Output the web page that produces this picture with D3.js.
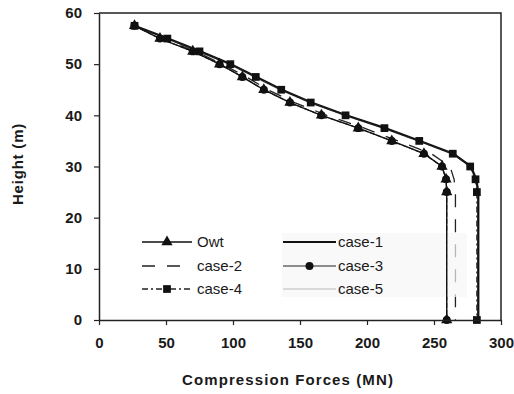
<!DOCTYPE html>
<html>
<head>
<meta charset="utf-8">
<script src="https://cdn.jsdelivr.net/npm/d3@7"></script>
<style>
  body { margin: 0; background: #fff; }
  text { font-family: "Liberation Sans", Arial, sans-serif; fill: #1a1a1a; }
</style>
</head>
<body>
<div id="chart"></div>
<script>
// heights (m) shared by every series
const heights = [57.5, 55, 52.5, 50, 47.5, 45, 42.5, 40, 37.5, 35, 32.5, 30, 27.5, 25, 0];

// compression forces (MN)
const owtForces   = [26.5, 45.5, 70, 90, 107, 123, 142.5, 166, 193.5, 218.5, 242.5, 256, 259, 259.5, 259.5];
const case1Forces = [26.5, 51.5, 75.5, 98.5, 117.5, 136.5, 158.5, 184.5, 213.5, 239.5, 264.5, 277.5, 281.5, 283, 283];
const case2Forces = [26.5, 47, 72, 92, 110, 126, 146, 170, 198, 223, 248, 262, 265, 266, 266];
const case3Forces = [26.5, 45.5, 70, 90, 107, 123, 142.5, 166, 193.5, 218.5, 242.5, 256, 259, 259.5, 259.5];
const case4Forces = [26.5, 51, 75, 98, 117, 136, 158, 184, 213, 239, 264, 277, 281, 282, 282];
const case5Forces = [26.5, 50, 74, 97, 116, 135, 157, 183, 212, 238, 263, 278, 282, 283.5, 283.5];

const xTicks = [0, 50, 100, 150, 200, 250, 300];
const yTicks = [0, 10, 20, 30, 40, 50, 60];

const series = [
  { name: 'case-5', values: case5Forces, color: '#cfcfcf', width: 1.5, dash: null, marker: null },
  { name: 'case-1', values: case1Forces, color: '#111', width: 2.2, dash: null, marker: null },
  { name: 'case-2', values: case2Forces, color: '#222', width: 1.3, dash: '13,12', marker: null },
  { name: 'case-4', values: case4Forces, color: '#222', width: 1.3, dash: '6,3,2,3', marker: 'square' },
  { name: 'case-3', values: case3Forces, color: '#222', width: 1.2, dash: '5,2', marker: 'circle' },
  { name: 'Owt',    values: owtForces,   color: '#111', width: 1.4, dash: null, marker: 'triangle' }
];

const width = 514, height = 394;
const margin = { top: 13, right: 13, bottom: 74, left: 99 };

const svg = d3.select('#chart')
  .append('svg')
  .attr('width', width)
  .attr('height', height);

const x = d3.scaleLinear()
  .domain([0, 300])
  .range([margin.left, width - margin.right]);

const y = d3.scaleLinear()
  .domain([0, 60])
  .range([height - margin.bottom, margin.top]);

const line = d3.line()
  .x(d => x(d[0]))
  .y(d => y(d[1]));

const symbolType = { square: d3.symbolSquare, circle: d3.symbolCircle, triangle: d3.symbolTriangle };
const symbolSize = { square: 60, circle: 50, triangle: 55 };

function drawSeries(s) {
  const pts = s.values.map((v, i) => [v, heights[i]]);
  svg.append('path')
    .datum(pts)
    .attr('fill', 'none')
    .attr('stroke', s.color)
    .attr('stroke-width', s.width)
    .attr('stroke-dasharray', s.dash)
    .attr('d', line);
  if (s.marker) {
    svg.append('g').selectAll('path')
      .data(pts)
      .enter()
      .append('path')
      .attr('transform', d => `translate(${x(d[0])},${y(d[1])})`)
      .attr('d', d3.symbol().type(symbolType[s.marker]).size(symbolSize[s.marker]))
      .attr('fill', '#111');
  }
}

series.filter(s => s.name !== 'Owt').forEach(drawSeries);

// faint background of the right legend block (scan artefact in the source)
svg.append('rect')
  .attr('x', 282).attr('y', 233)
  .attr('width', 185).attr('height', 64)
  .attr('fill', '#f6f6f6')
  .attr('opacity', 0.7);

series.filter(s => s.name === 'Owt').forEach(drawSeries);

// axes
const xAxis = svg.append('g')
  .attr('transform', `translate(0,${y(0)})`)
  .call(d3.axisBottom(x).tickValues(xTicks).tickSize(5).tickPadding(12).tickSizeOuter(0));
const yAxis = svg.append('g')
  .attr('transform', `translate(${x(0)},0)`)
  .call(d3.axisLeft(y).tickValues(yTicks).tickSize(5).tickPadding(12).tickSizeOuter(0));

[xAxis, yAxis].forEach(g => {
  g.select('.domain').attr('stroke', '#222').attr('stroke-width', 1.5);
  g.selectAll('.tick line').attr('stroke', '#222').attr('stroke-width', 1.2);
  g.selectAll('text')
    .style('font-family', '"Liberation Sans", Arial, sans-serif')
    .style('font-size', '15px')
    .style('font-weight', 'bold')
    .attr('fill', '#1a1a1a');
});

// top and right frame
svg.append('path')
  .attr('d', `M${x(0)},${y(60)}H${x(300)}V${y(0)}`)
  .attr('fill', 'none')
  .attr('stroke', '#222')
  .attr('stroke-width', 1.5);

// axis titles
svg.append('text')
  .attr('x', 288).attr('y', 385)
  .attr('text-anchor', 'middle')
  .style('font-size', '15px').style('font-weight', 'bold')
  .style('letter-spacing', '1.1px')
  .text('Compression Forces (MN)');

svg.append('text')
  .attr('transform', 'translate(23,164) rotate(-90)')
  .attr('text-anchor', 'middle')
  .style('font-size', '15px').style('font-weight', 'bold')
  .style('letter-spacing', '0.8px')
  .text('Height (m)');

// legend
const legendOrder = ['Owt', 'case-2', 'case-4', 'case-1', 'case-3', 'case-5'];
const legendRows = [242, 266, 289];
const legendCols = [{ x0: 142, x1: 192, tx: 197 }, { x0: 283, x1: 336, tx: 338 }];

legendOrder.forEach((name, i) => {
  const s = series.find(d => d.name === name);
  const col = legendCols[Math.floor(i / 3)];
  const cy = legendRows[i % 3];
  const g = svg.append('g');
  g.append('line')
    .attr('x1', col.x0).attr('x2', col.x1)
    .attr('y1', cy).attr('y2', cy)
    .attr('stroke', s.color)
    .attr('stroke-width', s.width)
    .attr('stroke-dasharray', name === 'case-3' ? null : s.dash);
  if (s.marker) {
    g.append('path')
      .attr('transform', `translate(${(col.x0 + col.x1) / 2},${cy})`)
      .attr('d', d3.symbol().type(symbolType[s.marker]).size(symbolSize[s.marker]))
      .attr('fill', '#111');
  }
  g.append('text')
    .attr('x', col.tx).attr('y', cy + 5)
    .style('font-size', '15px')
    .text(name);
});
</script>
</body>
</html>
